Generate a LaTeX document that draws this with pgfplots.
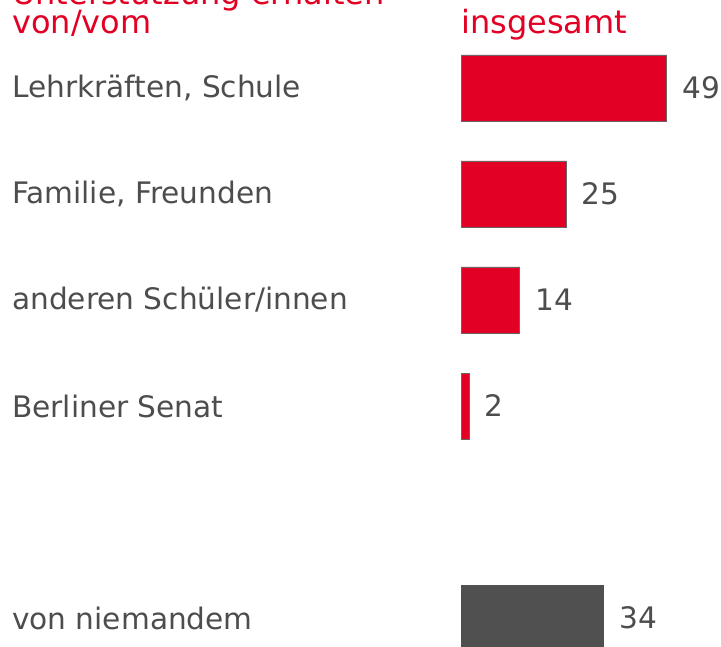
\documentclass[border=0pt]{standalone}
\usepackage{pgfplots}
\pgfplotsset{compat=1.18}
\usepackage{fontspec}
\setmainfont{DejaVu Sans}
\definecolor{dbred}{RGB}{226,0,36}
\definecolor{txt}{RGB}{77,77,77}
\definecolor{dark}{RGB}{80,80,80}
\newcommand{\bodyfont}{\fontsize{29.6bp}{35bp}\selectfont}
\newcommand{\titlefont}{\fontsize{32bp}{38bp}\selectfont}
\begin{document}
\begin{tikzpicture}[x=1bp,y=1bp]
\useasboundingbox (0,0) rectangle (721,647);
\clip (0,0) rectangle (721,647);
\begin{axis}[at={(0,0)}, anchor=south west, scale only axis,
  width=721bp, height=647bp,
  xmin=-109.762, xmax=61.905, ymin=-0.8302, ymax=5.2736,
  y dir=reverse, axis lines=none, ticks=none, clip=false,
  /pgf/number format/assume math mode=true,
  xbar, bar width=66bp, bar shift=0pt]
\addplot[fill=dbred, draw=black!60, line width=0.75bp,
  nodes near coords,
  nodes near coords style={anchor=west, inner sep=0pt, xshift=15bp, font=\bodyfont, text=txt}]
  coordinates {(49,0) (25,1) (14,2) (2,3)};
\addplot[fill=dark, draw=dark, line width=0.75bp,
  nodes near coords,
  nodes near coords style={anchor=west, inner sep=0pt, xshift=15bp, font=\bodyfont, text=txt}]
  coordinates {(34,5)};
\node[anchor=base west, inner sep=0pt, font=\titlefont, text=dbred] at (axis cs:-106.905,-0.783) {Unterstützung erhalten};
\node[anchor=base west, inner sep=0pt, font=\titlefont, text=dbred] at (axis cs:-106.905,-0.5094) {von/vom};
\node[anchor=base west, inner sep=0pt, font=\titlefont, text=dbred] at (axis cs:0,-0.5094) {insgesamt};
\node[anchor=west, inner sep=0pt, font=\bodyfont, text=txt] at (axis cs:-106.905,0) {Lehrkräften, Schule};
\node[anchor=west, inner sep=0pt, font=\bodyfont, text=txt] at (axis cs:-106.905,1) {Familie, Freunden};
\node[anchor=west, inner sep=0pt, font=\bodyfont, text=txt] at (axis cs:-106.905,2) {anderen Schüler/innen};
\node[anchor=west, inner sep=0pt, font=\bodyfont, text=txt] at (axis cs:-106.905,3) {Berliner Senat};
\node[anchor=west, inner sep=0pt, font=\bodyfont, text=txt] at (axis cs:-106.905,5) {von niemandem};
\end{axis}
\end{tikzpicture}
\end{document}
